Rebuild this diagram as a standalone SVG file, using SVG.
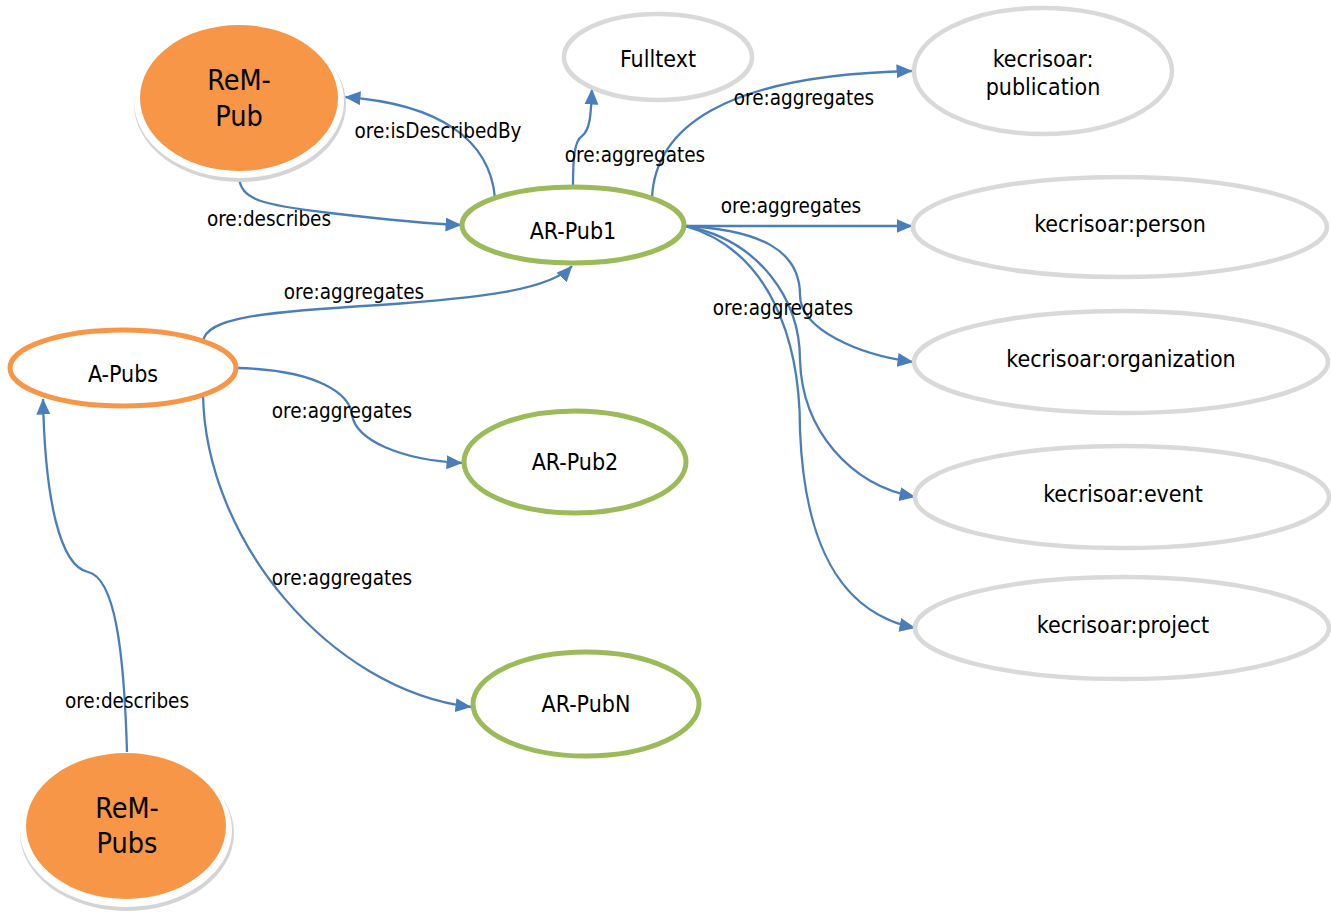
<svg xmlns="http://www.w3.org/2000/svg" width="1331" height="914" viewBox="0 0 1331 914">
<style>
  text { font-family: "DejaVu Sans Condensed", "DejaVu Sans", sans-serif; font-stretch: condensed; fill: #000; text-anchor: middle; }
  .nl { font-size: 23px; }
  .rl { font-size: 28.5px; }
  .el { font-size: 20.5px; }
  .gray { fill: #fff; stroke: #d9d9d9; stroke-width: 4.5; }
  .green { fill: #fff; stroke: #9bbb59; stroke-width: 5; }
  .orangeO { fill: #fff; stroke: #f79646; stroke-width: 5; }
  .orangeF { fill: #f79646; }
  .shadow { fill: #d4d4d4; }
  .rim { fill: #fff; }
  .edge { fill: none; stroke: #4a7ebb; stroke-width: 2.3; marker-end: url(#arr); }
</style>
<defs>
  <marker id="arr" markerUnits="userSpaceOnUse" markerWidth="17" markerHeight="15" refX="15.5" refY="7" orient="auto">
    <path d="M0,0 L16,7 L0,14 z" fill="#4a7ebb"/>
  </marker>
</defs>
<rect width="1331" height="914" fill="#fff"/>

<g id="connectors">
  <path class="edge" d="M239,176 C240,200 262,205 330,213 S430,224 461,225"/>
  <path class="edge" d="M495,198 C490,140 440,104 345,97"/>
  <path class="edge" d="M573,186 C573,160 574,141 582,136 C590,130 591,115 592,89"/>
  <path class="edge" d="M652,198 C655,130 720,75 912,71"/>
  <path class="edge" d="M685,226 L912,226"/>
  <path class="edge" d="M685,226 C760,230 800,250 800,295 C800,330 860,355 913,362"/>
  <path class="edge" d="M685,226 C760,240 800,300 800,360 C802,430 850,485 915,497"/>
  <path class="edge" d="M685,226 C770,250 800,340 800,430 C805,560 850,615 915,628"/>
  <path class="edge" d="M203,342 C205,318 260,312 380,305 C480,298 550,290 572,266"/>
  <path class="edge" d="M237,368 C320,370 350,395 352,415 C356,440 400,460 462,463"/>
  <path class="edge" d="M203,394 C205,540 330,690 471,707"/>
  <path class="edge" d="M127,752 C124,650 115,578 88,572 C60,566 45,500 43,399"/>
  <text class="el" x="269" y="226">ore:describes</text>
  <text class="el" x="438" y="138">ore:isDescribedBy</text>
  <text class="el" x="635" y="162">ore:aggregates</text>
  <text class="el" x="804" y="105">ore:aggregates</text>
  <text class="el" x="791" y="213">ore:aggregates</text>
  <text class="el" x="783" y="315">ore:aggregates</text>
  <text class="el" x="354" y="299">ore:aggregates</text>
  <text class="el" x="342" y="418">ore:aggregates</text>
  <text class="el" x="342" y="585">ore:aggregates</text>
  <text class="el" x="127" y="708">ore:describes</text>
</g>

<g id="rem-pub">
  <ellipse class="shadow" cx="240" cy="104" rx="106" ry="78"/>
  <ellipse class="rim" cx="239" cy="101" rx="105" ry="77"/>
  <ellipse class="orangeF" cx="239" cy="98" rx="99" ry="73"/>
  <text class="rl" x="239" y="90">ReM-</text>
  <text class="rl" x="239" y="126">Pub</text>
</g>

<g id="rem-pubs">
  <ellipse class="shadow" cx="127" cy="833" rx="107" ry="78"/>
  <ellipse class="rim" cx="126" cy="830" rx="106" ry="77"/>
  <ellipse class="orangeF" cx="126" cy="826" rx="100" ry="73"/>
  <text class="rl" x="127" y="818">ReM-</text>
  <text class="rl" x="127" y="853">Pubs</text>
</g>

<g id="fulltext">
  <ellipse class="gray" cx="658" cy="57" rx="94" ry="43"/>
  <text class="nl" x="658" y="67">Fulltext</text>
</g>

<g id="publication">
  <ellipse class="gray" cx="1043" cy="71" rx="129" ry="63"/>
  <text class="nl" x="1043" y="67">kecrisoar:</text>
  <text class="nl" x="1043" y="95">publication</text>
</g>

<g id="person">
  <ellipse class="gray" cx="1120" cy="227" rx="207" ry="50"/>
  <text class="nl" x="1120" y="232">kecrisoar:person</text>
</g>

<g id="organization">
  <ellipse class="gray" cx="1121" cy="362" rx="207" ry="51"/>
  <text class="nl" x="1121" y="367">kecrisoar:organization</text>
</g>

<g id="event">
  <ellipse class="gray" cx="1122" cy="497" rx="207" ry="51"/>
  <text class="nl" x="1123" y="502">kecrisoar:event</text>
</g>

<g id="project">
  <ellipse class="gray" cx="1122" cy="628" rx="207" ry="51"/>
  <text class="nl" x="1123" y="633">kecrisoar:project</text>
</g>

<g id="ar-pub1">
  <ellipse class="green" cx="573" cy="225" rx="111" ry="38"/>
  <text class="nl" x="573" y="239">AR-Pub1</text>
</g>

<g id="ar-pub2">
  <ellipse class="green" cx="575" cy="462" rx="111" ry="51"/>
  <text class="nl" x="575" y="470">AR-Pub2</text>
</g>

<g id="ar-pubn">
  <ellipse class="green" cx="586" cy="704" rx="113" ry="52"/>
  <text class="nl" x="586" y="712">AR-PubN</text>
</g>

<g id="a-pubs">
  <ellipse class="orangeO" cx="123" cy="368" rx="113" ry="38"/>
  <text class="nl" x="123" y="382">A-Pubs</text>
</g>
</svg>
